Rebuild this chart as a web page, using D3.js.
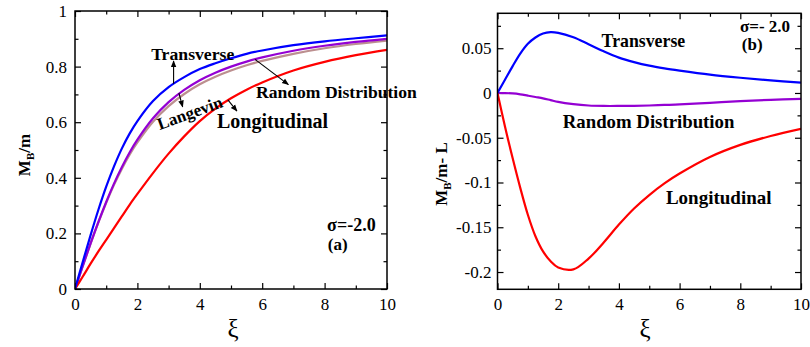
<!DOCTYPE html>
<html>
<head>
<meta charset="utf-8">
<script src="https://cdn.jsdelivr.net/npm/d3@7"></script>
<style>
  body { margin: 0; background: #fff; }
  svg text { font-family: "Liberation Serif", "Times New Roman", serif; }
</style>
</head>
<body>
<div id="chart"></div>
<script>
// xi grid shared by both panels
var xi = [0, 0.25, 0.5, 0.75, 1, 1.25, 1.5, 1.75, 2, 2.5, 3, 3.5, 4, 4.5, 5, 5.5, 6, 7, 8, 9, 10];

// panel (a): M_B/m
var aTransverse   = [0, 0.098, 0.194, 0.285, 0.368, 0.441, 0.505, 0.559, 0.604, 0.676, 0.726, 0.762, 0.791, 0.812, 0.830, 0.846, 0.858, 0.877, 0.891, 0.902, 0.912];
var aRandom       = [0, 0.083, 0.164, 0.241, 0.313, 0.379, 0.438, 0.491, 0.537, 0.614, 0.672, 0.716, 0.751, 0.778, 0.800, 0.818, 0.833, 0.857, 0.875, 0.889, 0.900];
var aLangevin     = [0, 0.083, 0.1635, 0.2395, 0.310, 0.3745, 0.432, 0.483, 0.527, 0.6015, 0.658, 0.7015, 0.7365, 0.7637, 0.786, 0.805, 0.8205, 0.846, 0.866, 0.8814, 0.8935];
var aLongitudinal = [0, 0.045, 0.091, 0.135, 0.177, 0.219, 0.261, 0.303, 0.342, 0.417, 0.487, 0.549, 0.604, 0.649, 0.686, 0.717, 0.743, 0.786, 0.817, 0.841, 0.860];

// panel (b): M_B/m - L
var bTransverse   = [0, 0.015, 0.030, 0.044, 0.055, 0.062, 0.0665, 0.068, 0.0672, 0.0622, 0.0545, 0.0465, 0.0395, 0.0345, 0.0305, 0.0275, 0.025, 0.0205, 0.017, 0.014, 0.0115];
var bRandom       = [0, -0.0001, -0.0005, -0.0015, -0.003, -0.0045, -0.006, -0.008, -0.010, -0.0125, -0.014, -0.0145, -0.0145, -0.0143, -0.014, -0.0134, -0.0128, -0.011, -0.009, -0.0076, -0.0065];
var bLongitudinal = [0, -0.038, -0.073, -0.106, -0.136, -0.160, -0.177, -0.188, -0.195, -0.197, -0.185, -0.167, -0.147, -0.129, -0.114, -0.101, -0.090, -0.0715, -0.058, -0.048, -0.040];

var xTicks = [0, 2, 4, 6, 8, 10];
var xMinor = [1, 3, 5, 7, 9];
var aYTicks = [0, 0.2, 0.4, 0.6, 0.8, 1];
var aYMinor = [0.1, 0.3, 0.5, 0.7, 0.9];
var bYTicks = [-0.2, -0.15, -0.1, -0.05, 0, 0.05];
var bYMinor = [-0.175, -0.125, -0.075, -0.025, 0.025, 0.075];

var width = 810, height = 347;
var svg = d3.select('#chart').append('svg')
  .attr('width', width).attr('height', height);

var defs = svg.append('defs');
defs.append('marker')
  .attr('id', 'arrow')
  .attr('viewBox', '0 0 10 10')
  .attr('refX', 9).attr('refY', 5)
  .attr('markerWidth', 7).attr('markerHeight', 7)
  .attr('markerUnits', 'userSpaceOnUse')
  .attr('orient', 'auto')
  .append('path').attr('d', 'M0,1L10,5L0,9Z').attr('fill', '#000');

function fmt(d) { return d === 0 ? '0' : String(+d.toFixed(2)); }

function panel(opt) {
  var x = d3.scaleLinear().domain([0, 10]).range([opt.left, opt.right]);
  var y = d3.scaleLinear().domain(opt.yDomain).range([opt.bottom, opt.top]);
  var g = svg.append('g');

  var clipId = 'clip' + opt.name;
  defs.append('clipPath').attr('id', clipId)
    .append('rect')
    .attr('x', opt.left).attr('y', opt.top)
    .attr('width', opt.right - opt.left).attr('height', opt.bottom - opt.top);

  // ticks, all pointing inward
  function ax(axis, tr, ticks, size, labels, pad) {
    var a = axis.tickValues(ticks).tickSize(-size).tickPadding(pad || 3)
      .tickFormat(labels ? fmt : '');
    var s = g.append('g').attr('transform', tr).call(a);
    s.select('.domain').remove();
    s.selectAll('line').attr('stroke', '#000').attr('stroke-width', 1.2);
    s.selectAll('text').attr('font-size', 17).attr('fill', '#000');
    return s;
  }
  ax(d3.axisBottom(x), 'translate(0,' + opt.bottom + ')', xTicks, 6, true, 9);
  ax(d3.axisBottom(x), 'translate(0,' + opt.bottom + ')', xMinor, 3.5, false);
  ax(d3.axisTop(x), 'translate(0,' + opt.top + ')', xTicks, 6, false);
  ax(d3.axisTop(x), 'translate(0,' + opt.top + ')', xMinor, 3.5, false);
  ax(d3.axisLeft(y), 'translate(' + opt.left + ',0)', opt.yTicks, 6, true, opt.yPad);
  ax(d3.axisLeft(y), 'translate(' + opt.left + ',0)', opt.yMinor, 3.5, false);
  ax(d3.axisRight(y), 'translate(' + opt.right + ',0)', opt.yTicks, 6, false);
  ax(d3.axisRight(y), 'translate(' + opt.right + ',0)', opt.yMinor, 3.5, false);

  var line = d3.line()
    .x(function(d, i) { return x(xi[i]); })
    .y(function(d) { return y(d); })
    .curve(d3.curveCatmullRom.alpha(0.5));

  var lines = g.append('g').attr('clip-path', 'url(#' + clipId + ')');
  opt.series.forEach(function(s) {
    lines.append('path')
      .attr('d', line(s.values))
      .attr('fill', 'none')
      .attr('stroke', s.color)
      .attr('stroke-width', 2.2);
  });

  g.append('rect')
    .attr('x', opt.left).attr('y', opt.top)
    .attr('width', opt.right - opt.left).attr('height', opt.bottom - opt.top)
    .attr('fill', 'none').attr('stroke', '#000').attr('stroke-width', 1.5);

  // axis titles
  g.append('text')
    .attr('x', opt.xiX).attr('y', 337)
    .attr('text-anchor', 'middle').attr('font-size', 25)
    .text('ξ');

  var yt = g.append('text')
    .attr('transform', 'translate(' + opt.yTitleX + ',' + opt.yTitleY + ') rotate(-90)')
    .attr('text-anchor', 'middle').attr('font-size', 17).attr('font-weight', 'bold');
  yt.append('tspan').text('M');
  yt.append('tspan').attr('font-size', 11).attr('dy', 4).text('B');
  yt.append('tspan').attr('dy', -4).text(opt.yTitleRest);

  opt.labels.forEach(function(l) {
    g.append('text')
      .attr('transform', 'translate(' + x(l.x) + ',' + y(l.y) + ')' + (l.rot ? ' rotate(' + l.rot + ')' : ''))
      .attr('font-size', l.size || 17).attr('font-weight', 'bold')
      .text(l.text);
  });

  (opt.arrows || []).forEach(function(a) {
    g.append('line')
      .attr('x1', x(a[0])).attr('y1', y(a[1]))
      .attr('x2', x(a[2])).attr('y2', y(a[3]))
      .attr('stroke', '#000').attr('stroke-width', 1.1)
      .attr('marker-end', 'url(#arrow)');
  });
}

panel({
  name: 'a', left: 75, right: 387, top: 11, bottom: 289,
  yDomain: [0, 1], yTicks: aYTicks, yMinor: aYMinor, yPad: 8,
  yTitleX: 30, yTitleY: 155, yTitleRest: '/m', xiX: 233,
  series: [
    { values: aLangevin, color: '#bc8f8f' },
    { values: aRandom, color: '#9400d3' },
    { values: aLongitudinal, color: '#ff0000' },
    { values: aTransverse, color: '#0000ff' }
  ],
  labels: [
    { text: 'Transverse', x: 2.44, y: 0.824, size: 17.7 },
    { text: 'Random Distribution', x: 5.8, y: 0.687, size: 17.6 },
    { text: 'Langevin', x: 2.72, y: 0.572, size: 17, rot: -20 },
    { text: 'Longitudinal', x: 4.55, y: 0.579, size: 20 },
    { text: 'σ=-2.0', x: 8.08, y: 0.209, size: 18 },
    { text: '(a)', x: 8.1, y: 0.14, size: 17 }
  ],
  arrows: [
    [3.16, 0.738, 3.16, 0.82],
    [3.33, 0.705, 3.45, 0.655],
    [5.77, 0.826, 6.84, 0.735],
    [4.9, 0.68, 5.19, 0.64]
  ]
});

panel({
  name: 'b', left: 497.5, right: 801, top: 13.3, bottom: 289.3,
  yDomain: [-0.2193, 0.089], yTicks: bYTicks, yMinor: bYMinor, yPad: 6,
  yTitleX: 447, yTitleY: 174, yTitleRest: '/m- L', xiX: 645,
  series: [
    { values: bRandom, color: '#9400d3' },
    { values: bLongitudinal, color: '#ff0000' },
    { values: bTransverse, color: '#0000ff' }
  ],
  labels: [
    { text: 'Transverse', x: 3.43, y: 0.0514, size: 17.8 },
    { text: 'σ=- 2.0', x: 7.99, y: 0.068, size: 17 },
    { text: '(b)', x: 8.05, y: 0.048, size: 17 },
    { text: 'Random Distribution', x: 2.15, y: -0.039, size: 18.8 },
    { text: 'Longitudinal', x: 5.55, y: -0.124, size: 19 }
  ]
});
</script>
</body>
</html>
